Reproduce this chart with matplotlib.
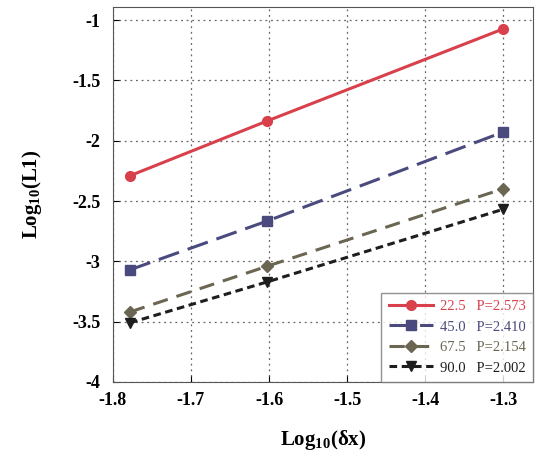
import numpy as np
import matplotlib
matplotlib.use('Agg')
import matplotlib.pyplot as plt

# log10 of grid spacing (1/60, 1/40, 1/20)
log_dx = [-1.778, -1.602, -1.301]

angles = ['22.5', '45.0', '67.5', '90.0']
orders = ['2.573', '2.410', '2.154', '2.002']
log_l1 = [
    [-2.29, -1.835, -1.075],
    [-3.07, -2.665, -1.93],
    [-3.42, -3.04, -2.40],
    [-3.51, -3.17, -2.57],
]

colors = ['#d8404c', '#4a4a7e', '#6b6652', '#1e1e1e']
markers = ['o', 's', 'D', 'v']
dashes = [None, (7, 3), (5, 3), (2.5, 1.5)]

plt.rcParams['font.family'] = ['Liberation Serif', 'DejaVu Serif']
plt.rcParams['mathtext.fontset'] = 'custom'
plt.rcParams['mathtext.rm'] = 'Liberation Serif:bold'
plt.rcParams['mathtext.bf'] = 'Liberation Serif:bold'
plt.rcParams['mathtext.it'] = 'Liberation Serif:bold'

fig = plt.figure(figsize=(5.4, 4.59), dpi=100)
ax = fig.add_axes([0.209, 0.168, 0.778, 0.817])

for i in range(len(angles)):
    label = f'{angles[i]}   P={orders[i]}'
    line, = ax.plot(log_dx, log_l1[i], color=colors[i], marker=markers[i],
                    markersize=7 if markers[i] != 'D' else 6, linewidth=2.2,
                    label=label)
    if dashes[i] is not None:
        line.set_dashes(dashes[i])

ax.set_xlim(-1.8, -1.262)
ax.set_ylim(-4, -0.89)
ax.set_xticks([-1.8, -1.7, -1.6, -1.5, -1.4, -1.3])
ax.set_xticklabels(['-1.8', '-1.7', '-1.6', '-1.5', '-1.4', '-1.3'])
ax.set_yticks([-4, -3.5, -3, -2.5, -2, -1.5, -1])
ax.set_yticklabels(['-4', '-3.5', '-3', '-2.5', '-2', '-1.5', '-1'])
ax.tick_params(direction='in', length=4, labelsize=13)
ax.tick_params(axis='x', pad=7)
ax.tick_params(axis='y', pad=9)
for lab in ax.get_xticklabels() + ax.get_yticklabels():
    lab.set_fontweight('bold')
ax.grid(True, linestyle=(0, (1.5, 3)), color='#666666', linewidth=0.9)

ax.set_xlabel(r'Log$_{\mathrm{10}}$(δx)', fontsize=15, fontweight='bold', labelpad=14)
ax.set_ylabel(r'Log$_{\mathrm{10}}$(L1)', fontsize=15, fontweight='bold', labelpad=20)

for s in ax.spines.values():
    s.set_color('#555555')

leg = ax.legend(loc='lower right', fontsize=10.5, frameon=True, fancybox=False,
                edgecolor='#777777', borderaxespad=0.0, handlelength=3.0,
                handletextpad=0.5, labelspacing=0.5, borderpad=0.5,
                labelcolor='linecolor')
leg.get_frame().set_linewidth(1.0)

plt.savefig('out.png', dpi=100)
